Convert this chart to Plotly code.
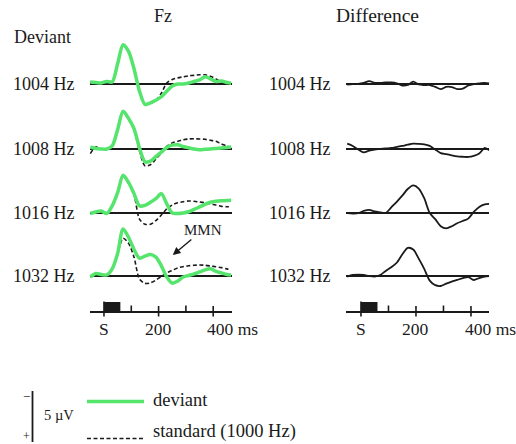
import plotly.graph_objects as go

W, H = 516, 444

# ---------------- data (µV, negative = up as in the original) ----------------
TIME = [-50, -30, -10, 10, 30, 50, 70, 90, 110, 130, 150, 170, 190, 210, 230,
        250, 270, 290, 310, 330, 350, 370, 390, 410, 430, 450, 466]
DEVIANTS = ["1004 Hz", "1008 Hz", "1016 Hz", "1032 Hz"]

dev_1004 = [-0.2, -0.15, -0.1, -0.25, -0.2, -2.0, -3.85, -3.2, -1.5, 0.7, 2.0, 1.85, 1.6, 1.25,
            0.7, 0.2, 0.0, 0.0, -0.1, -0.25, -0.4, -0.7, -0.5, -0.25, -0.3, -0.15, -0.07]
std_1004 = [-0.2, -0.15, -0.1, -0.2, -0.2, -2.0, -3.8, -3.1, -1.5, 0.7, 2.0, 1.9, 1.6, 0.9,
            -0.1, -0.45, -0.6, -0.7, -0.8, -0.85, -0.9, -0.9, -0.75, -0.5, -0.2, -0.07, 0.0]

dev_1008 = [-0.2, -0.05, 0.0, 0.0, -0.3, -1.9, -3.7, -3.0, -2.0, -0.1, 1.25, 1.2, 0.75, 0.3,
            -0.15, -0.38, -0.42, -0.25, -0.12, 0.0, 0.07, 0.03, 0.0, -0.05, -0.1, -0.15, -0.2]
std_1008 = [0.45, -0.2, 0.0, 0.0, -0.3, -1.9, -3.6, -2.9, -1.9, 0.2, 1.65, 1.55, 1.0, 0.4,
            -0.26, -0.6, -0.75, -0.9, -0.98, -1.0, -0.98, -0.95, -0.85, -0.75, -0.5, -0.3, -0.1]

dev_1016 = [0.05, -0.1, -0.2, 0.05, -0.7, -2.0, -3.7, -3.0, -1.9, -0.7, -0.75, -1.05, -1.4, -1.9,
            -0.9, 0.0, 0.05, 0.0, -0.12, -0.35, -0.6, -0.85, -1.05, -1.15, -1.2, -1.22, -1.24]
std_1016 = [0.05, -0.1, -0.15, 0.05, -0.7, -2.0, -3.6, -2.9, -1.8, 0.6, 1.1, 1.1, 0.75, 0.2,
            -0.4, -0.78, -1.0, -1.1, -1.18, -1.15, -1.08, -1.0, -0.9, -0.78, -0.65, -0.62, -0.6]

dev_1032 = [0.1, -0.25, -0.15, -0.1, -0.7, -2.2, -4.6, -3.8, -2.6, -1.75, -1.95, -2.1, -1.85, -1.0,
            0.1, 0.7, 0.5, 0.1, -0.05, -0.2, -0.4, -0.6, -0.72, -0.45, -0.3, -0.15, -0.1]
std_1032 = [0.1, -0.2, -0.1, -0.1, -0.7, -2.2, -3.7, -3.2, -1.85, 0.3, 0.72, 0.68, 0.4, 0.05,
            -0.3, -0.55, -0.8, -0.92, -1.0, -1.05, -1.08, -1.05, -0.98, -0.9, -0.82, -0.7, -0.59]

diff_1004 = [0.05, 0.02, 0.0, -0.1, -0.28, -0.12, -0.1, -0.15, -0.15, -0.07, 0.15, 0.1, -0.23, 0.05,
             0.1, 0.1, 0.28, 0.5, 0.28, 0.3, 0.5, 0.45, 0.15, 0.0, -0.05, -0.12, -0.05]
diff_1008 = [-0.52, -0.3, 0.05, 0.33, 0.15, 0.05, 0.0, -0.05, -0.1, -0.2, -0.3, -0.42, -0.52, -0.5,
             -0.45, -0.3, 0.05, 0.4, 0.5, 0.62, 0.72, 0.76, 0.78, 0.68, 0.45, -0.1, 0.13]
diff_1016 = [0.0, 0.05, 0.02, -0.2, -0.3, -0.15, -0.05, 0.0, -0.55, -1.1, -1.7, -2.35, -2.7, -2.4,
             -1.45, 0.0, 0.6, 1.3, 1.5, 1.3, 1.0, 0.78, 0.55, -0.1, -0.6, -0.85, -0.9]
diff_1032 = [0.07, -0.1, -0.13, -0.1, 0.0, 0.05, -0.1, -0.5, -0.85, -1.3, -2.1, -2.75, -2.6, -1.7,
             -0.7, 0.45, 0.9, 0.98, 0.75, 0.55, 0.38, 0.2, 0.1, 0.39, 0.2, 0.05, 0.0]

DEVIANT_SERIES = [dev_1004, dev_1008, dev_1016, dev_1032]
STANDARD_SERIES = [std_1004, std_1008, std_1016, std_1032]
DIFF_SERIES = [diff_1004, diff_1008, diff_1016, diff_1032]

MAJOR_TICKS = [0, 200, 400]
MINOR_TICKS = [100, 300]
STIM_ON, STIM_OFF = 0, 60
MMN_POINT = (252, -2.06)   # time (ms), µV in the 1032 Hz Fz row
SCALE_UV = 5

# ---------------- layout geometry ----------------
X_RANGE = [-53, 467]
COL_PX = [(89.5, 231.5), (346.4, 489.4)]
BASE_PX = [84, 149, 213, 276]
PX_PER_UV = 10.2
UP_PX, DOWN_PX = 50, 30
AXIS_PX = 311.5

GREEN = "#55e46c"
INK = "#1a1a1a"
FONT = "Liberation Serif"


def py(p):
    return 1 - p / H


def px(p):
    return p / W


fig = go.Figure()
layout = dict(width=W, height=H, margin=dict(l=0, r=0, t=0, b=0),
              paper_bgcolor="white", plot_bgcolor="rgba(0,0,0,0)",
              showlegend=False, font=dict(family=FONT, color=INK))

for c in range(2):
    for r in range(4):
        idx = c * 4 + r + 1
        xn = "x" if idx == 1 else f"x{idx}"
        yn = "y" if idx == 1 else f"y{idx}"
        xk = "xaxis" if idx == 1 else f"xaxis{idx}"
        yk = "yaxis" if idx == 1 else f"yaxis{idx}"
        b = BASE_PX[r]
        xa = dict(domain=[px(COL_PX[c][0]), px(COL_PX[c][1])], range=X_RANGE,
                  showgrid=False, zeroline=False, showticklabels=False, ticks="",
                  showline=False, anchor=yn)
        if r == 3:
            xa.update(anchor="free", position=py(AXIS_PX), showline=True,
                      linecolor=INK, linewidth=1.5)
        ya = dict(domain=[py(b + DOWN_PX), py(b - UP_PX)],
                  range=[DOWN_PX / PX_PER_UV, -UP_PX / PX_PER_UV],
                  showgrid=False, zeroline=True, zerolinecolor=INK, zerolinewidth=1.5,
                  showticklabels=False, ticks="", showline=False, anchor=xn)
        layout[xk] = xa
        layout[yk] = ya
        if c == 0:
            fig.add_trace(go.Scatter(x=TIME, y=STANDARD_SERIES[r], mode="lines",
                                     line=dict(color=INK, width=1.6, dash="4px,2.5px",
                                               shape="spline", smoothing=0.8),
                                     xaxis=xn, yaxis=yn))
            fig.add_trace(go.Scatter(x=TIME, y=DEVIANT_SERIES[r], mode="lines",
                                     line=dict(color=GREEN, width=3.5,
                                               shape="spline", smoothing=0.8),
                                     xaxis=xn, yaxis=yn))
        else:
            fig.add_trace(go.Scatter(x=TIME, y=DIFF_SERIES[r], mode="lines",
                                     line=dict(color=INK, width=1.8,
                                               shape="spline", smoothing=0.8),
                                     xaxis=xn, yaxis=yn))

shapes = []
annotations = []

# row labels
LABEL_RIGHT_PX = [76.5, 333]
for c in range(2):
    for r in range(4):
        idx = c * 4 + r + 1
        yn = "y" if idx == 1 else f"y{idx}"
        annotations.append(dict(text=DEVIANTS[r], xref="paper", x=px(LABEL_RIGHT_PX[c]),
                                xanchor="right", yref=yn, y=0, yanchor="middle",
                                showarrow=False, font=dict(size=18)))

# titles
annotations.append(dict(text="Fz", xref="paper", x=px(163), yref="paper", y=py(16),
                        xanchor="center", yanchor="middle", showarrow=False, font=dict(size=18)))
annotations.append(dict(text="Difference", xref="paper", x=px(377), yref="paper", y=py(16),
                        xanchor="center", yanchor="middle", showarrow=False, font=dict(size=19.5)))
annotations.append(dict(text="Deviant", xref="paper", x=px(12), yref="paper", y=py(37),
                        xanchor="left", yanchor="middle", showarrow=False, font=dict(size=18)))

# time axes: ticks, stimulus box, labels
for c, xn in enumerate(["x4", "x8"]):
    shapes.append(dict(type="rect", xref=xn, x0=STIM_ON, x1=STIM_OFF, yref="paper",
                       y0=py(AXIS_PX), y1=py(302), fillcolor=INK, line=dict(width=0)))
    shapes.append(dict(type="line", xref=xn, x0=0, x1=0, yref="paper",
                       y0=py(316.5), y1=py(301.5), line=dict(color=INK, width=1.6)))
    for t in MAJOR_TICKS[1:]:
        shapes.append(dict(type="line", xref=xn, x0=t, x1=t, yref="paper",
                           y0=py(316.5), y1=py(306), line=dict(color=INK, width=1.6)))
    for t in MINOR_TICKS:
        shapes.append(dict(type="line", xref=xn, x0=t, x1=t, yref="paper",
                           y0=py(AXIS_PX), y1=py(305.5), line=dict(color=INK, width=1.6)))
    annotations.append(dict(text="S", xref=xn, x=0, xanchor="center", yref="paper",
                            y=py(329), yanchor="middle", showarrow=False, font=dict(size=17.5)))
    annotations.append(dict(text="200", xref=xn, x=200, xanchor="center", yref="paper",
                            y=py(329), yanchor="middle", showarrow=False, font=dict(size=17.5)))
    annotations.append(dict(text="400 ms", xref=xn, x=400, xanchor="left", xshift=-8,
                            yref="paper", y=py(329), yanchor="middle", showarrow=False,
                            font=dict(size=17.5)))

# MMN arrow
annotations.append(dict(text="MMN", xref="x4", yref="y4", x=MMN_POINT[0], y=MMN_POINT[1],
                        ax=30, ay=-25, showarrow=True, arrowhead=2, arrowsize=1.1,
                        arrowwidth=1.4, arrowcolor=INK, font=dict(size=15)))

# scale bar legend
bar_x = 32.5
bar_top = 391
shapes.append(dict(type="line", xref="paper", yref="paper", x0=px(bar_x), x1=px(bar_x),
                   y0=py(bar_top), y1=py(bar_top + SCALE_UV * PX_PER_UV),
                   line=dict(color=INK, width=1.8)))
annotations.append(dict(text="\u2212", xref="paper", yref="paper", x=px(26), y=py(396),
                        showarrow=False, xanchor="center", yanchor="middle", font=dict(size=13)))
annotations.append(dict(text="+", xref="paper", yref="paper", x=px(26), y=py(435.5),
                        showarrow=False, xanchor="center", yanchor="middle", font=dict(size=12)))
annotations.append(dict(text=f"{SCALE_UV} \u00b5V", xref="paper", yref="paper", x=px(42),
                        y=py(415), showarrow=False, xanchor="left", yanchor="middle",
                        font=dict(size=14.5)))

# line legend
shapes.append(dict(type="line", xref="paper", yref="paper", x0=px(87), x1=px(144),
                   y0=py(401.5), y1=py(401.5), line=dict(color=GREEN, width=3.5)))
shapes.append(dict(type="line", xref="paper", yref="paper", x0=px(87), x1=px(144),
                   y0=py(438.5), y1=py(438.5), line=dict(color=INK, width=1.6, dash="4px,2.5px")))
annotations.append(dict(text="deviant", xref="paper", yref="paper", x=px(151), y=py(400),
                        showarrow=False, xanchor="left", yanchor="middle", font=dict(size=18.5)))
annotations.append(dict(text="standard (1000 Hz)", xref="paper", yref="paper", x=px(151),
                        y=py(431), showarrow=False, xanchor="left", yanchor="middle",
                        font=dict(size=18.5)))

layout["shapes"] = shapes
layout["annotations"] = annotations
fig.update_layout(**layout)
fig.write_html("out.html")
